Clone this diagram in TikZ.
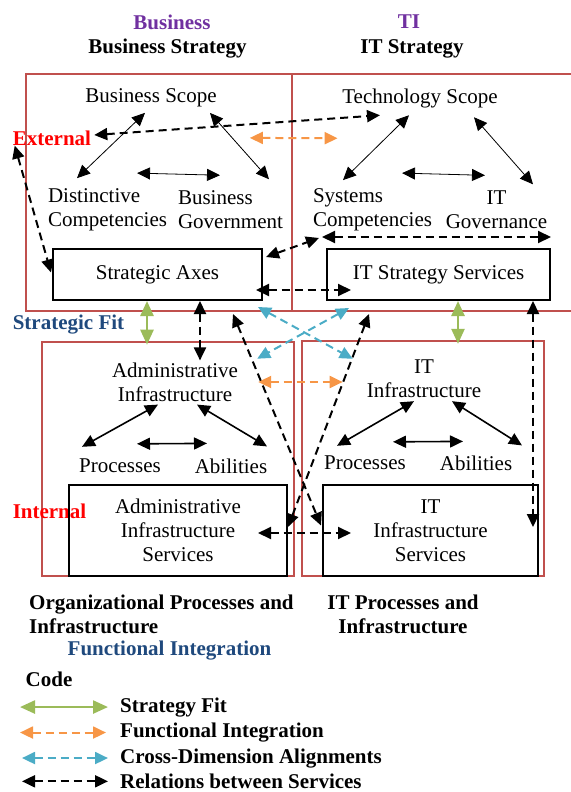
\documentclass[tikz,border=0pt]{standalone}
\usepackage{fontspec}
\setmainfont{Liberation Serif}
\usepackage{tikz}
\usetikzlibrary{positioning,arrows.meta}
\definecolor{frameRed}{HTML}{C0504D}
\definecolor{fitGreen}{HTML}{9BBB59}
\definecolor{intOrange}{HTML}{F79646}
\definecolor{crossBlue}{HTML}{4BACC6}
\definecolor{titlePurple}{HTML}{7030A0}
\definecolor{fitBlue}{HTML}{1F497D}
\tikzset {
    style Frame/.style={
        draw=frameRed,
        line width=1.8pt,
    },
    style Service/.style={
        draw=black,
        line width=2pt,
        rectangle, % Set the shape as a rectangle
        align=center,
        inner sep=2pt,
    },
    style Text/.style={
        align=center,
        inner sep=2pt,
    },
    style Title/.style={
        font=\fontsize{21}{24}\selectfont\bfseries,
        align=center,
        inner sep=2pt,
    },
    style Link/.style={<->, draw=black, line width=0.8pt},
    style Link B/.style={<->, draw=black, line width=1.6pt},
    style Rel/.style={<->, draw=black, line width=2pt, dash pattern=on 8pt off 5pt},
    style Fit/.style={<->, draw=fitGreen, line width=2.5pt, >={Triangle[length=15pt,width=13pt]}},
    style Int/.style={<->, draw=intOrange, line width=2pt, dash pattern=on 8pt off 5pt},
    style Cross/.style={<->, draw=crossBlue, line width=2pt, dash pattern=on 8pt off 5pt},
}

\begin{document}
\begin{tikzpicture}
[x=1pt, y=-1pt, font=\fontsize{21}{24}\selectfont, >={Triangle[length=13pt,width=12pt]}]
\useasboundingbox (0, 0) rectangle (570, 792);

\draw[style Frame] (26, 74) rectangle (292, 311);
\draw[style Frame] (292, 74) rectangle (580, 311);
\draw[style Frame] (42, 342) rectangle (294, 576);
\draw[style Frame] (302, 341) rectangle (544, 576);

\node[style Title, text=titlePurple] at (172, 22) (bus) {Business};
\node[style Title] at (167.5, 49) (busstr) {Business Strategy};
\node[style Title, text=titlePurple] at (409, 22) (ti) {TI};
\node[style Title] at (412, 49) (itstr) {IT Strategy};

\node[style Text] at (151, 98) (bscope) {Business Scope};
\node[style Text] at (420, 98) (tscope) {Technology Scope};
\node[style Title, text=red] at (52, 138) (ext) {External};
\node[style Text, align=left] at (107.5, 210) (distinct) {Distinctive\\Competencies};
\node[style Text, align=left] at (230.5, 210) (bgov) {Business\\Government};
\node[style Text, align=left] at (372.5, 210) (syscomp) {Systems\\Competencies};
\node[style Text] at (496.5, 210) (itgov) {IT\\Governance};
\node[style Service, minimum width=209pt, minimum height=51pt] at (157.5, 274.5) (axes) {Strategic Axes};
\node[style Service, minimum width=223pt, minimum height=51pt] at (438.5, 274.5) (itss) {IT Strategy Services};

\node[style Title, text=fitBlue] at (68.5, 325) (sfit) {Strategic Fit};
\node[style Text] at (175, 382) (adminf) {Administrative\\Infrastructure};
\node[style Text] at (120, 466) (procL) {Processes};
\node[style Text] at (231, 466) (abilL) {Abilities};
\node[style Text] at (424, 379) (itinf) {IT\\Infrastructure};
\node[style Text] at (365, 463) (procR) {Processes};
\node[style Text] at (476, 463) (abilR) {Abilities};
\node[style Title, text=red] at (49.5, 511) (int) {Internal};
\node[style Service, minimum width=218pt, minimum height=91pt] at (178, 530.5) (ais) {Administrative\\Infrastructure\\Services};
\node[style Service, minimum width=215pt, minimum height=91pt] at (430.5, 530.5) (itis) {IT\\Infrastructure\\Services};

\node[style Title, align=left, anchor=west] at (27, 614) (orgproc) {Organizational Processes and\\Infrastructure};
\node[style Title] at (403, 614) (itproc) {IT Processes and\\Infrastructure};
\node[style Title, text=fitBlue] at (169.5, 651) (fint) {Functional Integration};
\node[style Title] at (49, 679) (code) {Code};
\node[style Title, anchor=base west] at (118, 712) (lfit) {Strategy Fit};
\node[style Title, anchor=base west] at (118, 737.5) (lint) {Functional Integration};
\node[style Title, anchor=base west] at (118, 763) (lcross) {Cross-Dimension Alignments};
\node[style Title, anchor=base west] at (118, 788.5) (lrel) {Relations between Services};

% strategy triangles
\draw[style Link] ([shift={(-6,3.5)}]bscope.south) -- ([shift={(-30.5,-8.5)}]distinct.north);
\draw[style Link] ([shift={(59,3.5)}]bscope.south) -- ([shift={(38.5,-9.5)}]bgov.north);
\draw[style Link] ([shift={(29.5,-13.5)}]distinct.north) -- ([shift={(-10.5,-13.5)}]bgov.north);
\draw[style Link] ([shift={(-11,5.5)}]tscope.south) -- ([shift={(-29.5,-6.5)}]syscomp.north);
\draw[style Link] ([shift={(54,7.5)}]tscope.south) -- ([shift={(36.5,-4.5)}]itgov.north);
\draw[style Link] ([shift={(29.5,-13.5)}]syscomp.north) -- ([shift={(-11.5,-13.5)}]itgov.north);

% infrastructure triangles
\draw[style Link B] ([shift={(-17,1)}]adminf.south) -- ([shift={(-38,-10)}]procL.north);
\draw[style Link B] ([shift={(22,1)}]adminf.south) -- ([shift={(36,-10)}]abilL.north);
\draw[style Link B] ([shift={(17,-13)}]procL.north) -- ([shift={(-24,-13)}]abilL.north);
\draw[style Link B] ([shift={(-10,1)}]itinf.south) -- ([shift={(-28,-8)}]procR.north);
\draw[style Link B] ([shift={(28,1)}]itinf.south) -- ([shift={(46,-8)}]abilR.north);
\draw[style Link B] ([shift={(28,-12)}]procR.north) -- ([shift={(-13,-12)}]abilR.north);

% relations between services
\draw[style Rel] ([shift={(1,-3)}]ext.east) -- ([shift={(-40,5.5)}]tscope.south);
\draw[style Rel] ([shift={(4,-2)}]ext.south west) -- ([shift={(-1,-2)}]axes.west);
\draw[style Rel] ([shift={(3,9)}]axes.north east) -- ([shift={(-7,-10)}]itss.north west);
\draw[style Rel] ([shift={(-4,-11)}]itss.north west) -- ([shift={(0,-11)}]itss.north east);
\draw[style Rel] ([shift={(-7,15.5)}]axes.east) -- ([shift={(25,15.5)}]itss.west);
\draw[style Rel] ([shift={(42.5,0)}]axes.south) -- ([shift={(25,0)}]adminf.north);
\draw[style Rel] ([shift={(-30,13)}]axes.south east) -- ([shift={(-1,-5)}]itis.west);
\draw[style Rel] ([shift={(0,-3.5)}]ais.east) -- ([shift={(43,13)}]itss.south west);
\draw[style Rel] ([shift={(-30,2.5)}]ais.east) -- ([shift={(29,2.5)}]itis.west);
\draw[style Rel] ([shift={(-18,0)}]itss.south east) -- ([shift={(-6,43)}]itis.north east);

% strategic fit
\draw[style Fit] ([shift={(-10.5,0)}]axes.south) -- ([shift={(-28,-15.7)}]adminf.north);
\draw[style Fit] ([shift={(19.5,0)}]itss.south) -- ([shift={(34,-14)}]itinf.north);

% functional integration
\draw[style Int] ([shift={(31,28.5)}]bscope.south east) -- ([shift={(-2.5,28.5)}]tscope.south west);
\draw[style Int] ([shift={(18,0)}]adminf.east) -- ([shift={(-22,3)}]itinf.west);

% cross-dimension
\draw[style Cross] ([shift={(-5,6)}]axes.south east) -- ([shift={(-12,1)}]itinf.north west);
\draw[style Cross] ([shift={(23,7)}]itss.south west) -- ([shift={(17,-1.7)}]adminf.north east);

% code
\draw[style Fit] ([shift={(-98,0)}]lfit.west) -- ([shift={(-10,0)}]lfit.west);
\draw[style Int] ([shift={(-98,0)}]lint.west) -- ([shift={(-12,0)}]lint.west);
\draw[style Cross] ([shift={(-96,0)}]lcross.west) -- ([shift={(-10,0)}]lcross.west);
\draw[style Rel] ([shift={(-96,0)}]lrel.west) -- ([shift={(-10,0)}]lrel.west);
\end{tikzpicture}
\end{document}
